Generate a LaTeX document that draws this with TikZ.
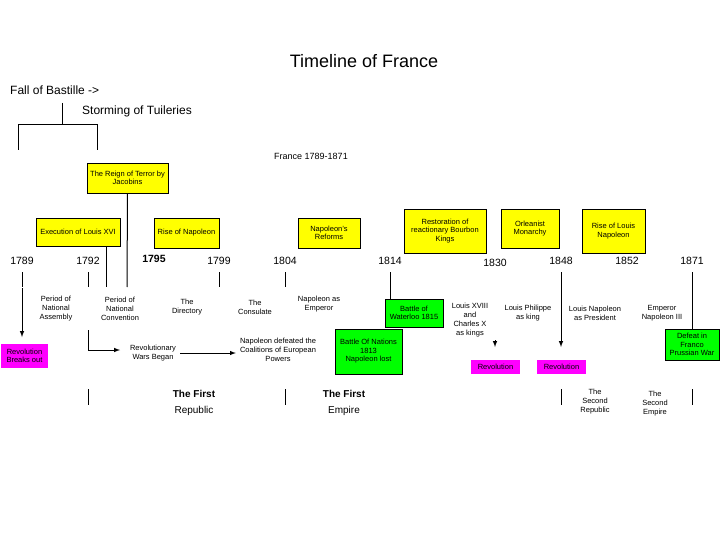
\documentclass[tikz,border=0pt]{standalone}
\usepackage{fontspec}
\setmainfont{Liberation Sans}
\definecolor{mag}{RGB}{255,0,255}
\definecolor{yel}{RGB}{255,255,0}
\definecolor{grn}{RGB}{0,255,0}
\begin{document}
\begin{tikzpicture}[x=1pt,y=-1pt,
 ybox/.style={fill=yel,draw=black,line width=0.6pt,inner sep=1pt,font=\fontsize{7.5}{8.5}\selectfont,align=center},
 gbox/.style={fill=grn,draw=black,line width=0.6pt,inner sep=1pt,font=\fontsize{7.5}{8.5}\selectfont,align=center},
 mbox/.style={fill=mag,inner sep=1pt,font=\fontsize{7.5}{8.5}\selectfont,align=center},
 lbl/.style={font=\fontsize{7.5}{9}\selectfont,align=center,inner sep=0pt},
 yr/.style={font=\fontsize{10.5}{12}\selectfont,inner sep=0pt},
 ln/.style={line width=1pt},
 arr/.style={line width=1pt,-latex}]
\useasboundingbox (0,0) rectangle (720,540);
\node[font=\fontsize{18}{20}\selectfont] (title) at (364,61) {Timeline of France};
\node[anchor=west,font=\fontsize{12}{14}\selectfont,inner sep=0pt] (fall) at (10,90) {Fall of Bastille ->};
\node[anchor=west,font=\fontsize{12}{14}\selectfont,inner sep=0pt] (storm) at (82,111) {Storming of Tuileries};
\coordinate (b0) at (62,103); \coordinate (b1) at (62,125);
\coordinate (bl) at (18,125); \coordinate (br) at (97,125);
\coordinate (bl2) at (18,150); \coordinate (br2) at (97,150);
\draw[ln] (b0)--(b1) (bl2)--(bl)--(br)--(br2);
\node[font=\fontsize{9}{10}\selectfont] (fr) at (311,156) {France 1789-1871};
% yellow boxes
\node[ybox,minimum width=81,minimum height=30] (terror) at (127.5,178) {The Reign of Terror by\\Jacobins};
\node[ybox,minimum width=84,minimum height=28] (exec) at (78,232) {Execution of Louis XVI};
\node[ybox,minimum width=65,minimum height=30] (risen) at (186.5,233) {Rise of Napoleon};
\node[ybox,minimum width=62,minimum height=30] (reform) at (329,233) {Napoleon's\\Reforms};
\node[ybox,minimum width=82,minimum height=44] (resto) at (445,231) {Restoration of\\reactionary Bourbon\\Kings};
\node[ybox,minimum width=58,minimum height=39] (orl) at (530,228.5) {Orleanist\\Monarchy};
\node[ybox,minimum width=63,minimum height=44] (riseln) at (613.5,231) {Rise of Louis\\Napoleon};
% years
\foreach \n/\x/\y/\t in {y89/22/261/1789,y92/88/261/1792,y99/219/261/1799,y04/285/261/1804,y14/390/261/1814,y30/495/263/1830,y48/561/261/1848,y52/627/261/1852,y71/692/261/1871}
 \node[yr] (\n) at (\x,\y) {\t};
\node[yr,font=\fontsize{10.5}{12}\selectfont\bfseries] (y95) at (154,259) {1795};
\foreach \x/\n in {22/a,88/b,219/c,285/d,390/e,561/f,692/g}{
 \coordinate (t\n1) at (\x,272); \coordinate (t\n2) at (\x,287);
 \draw[ln] (t\n1)--(t\n2);}
\coordinate (ex2) at (106,287); \draw[ln] (exec.south -| ex2) -- (ex2);
\coordinate (te2) at (127,287); \draw[ln] (terror.south) -- (te2);
% periods
\node[lbl] (pna) at (56,309) {Period of\\National\\Assembly};
\node[lbl] (pnc) at (120,309) {Period of\\National\\Convention};
\node[lbl] (dir) at (187,307) {The\\Directory};
\node[lbl] (cons) at (255,307) {The\\Consulate};
\node[lbl] (emp) at (319,304) {Napoleon as\\Emperor};
% lower row
\coordinate (ra) at (22,288);
\node[mbox,minimum width=47,minimum height=24] (rev1) at (24.5,356) {Revolution\\Breaks out};
\draw[arr] (ra) -- (22,337);
\node[lbl] (wars) at (153,353) {Revolutionary\\Wars Began};
\coordinate (wa) at (88,330); \coordinate (wb) at (88,350);
\draw[arr] (wa)--(wb)--(120,350);
\node[lbl] (coal) at (278,350) {Napoleon defeated the\\Coalitions of European\\Powers};
\draw[arr] (wars.east)++(4,0) -- ([xshift=-4pt]coal.west |- wars.east);
\node[gbox,minimum width=67,minimum height=45] (nations) at (368.5,351.5) {Battle Of Nations\\1813\\Napoleon lost};
\node[gbox,minimum width=58,minimum height=28] (water) at (414,313) {Battle of\\Waterloo 1815};
\coordinate (wt) at (390,287); \draw[ln] (wt) -- (water.north -| wt);
\node[lbl] (lx) at (470,320) {Louis XVIII\\and\\Charles X\\as kings};
\node[mbox,minimum width=49,minimum height=14] (rev2) at (495.5,367) {Revolution};
\coordinate (lxa) at (495,340); \draw[arr] (lxa) -- (495,347);
\node[lbl] (lp) at (528,313) {Louis Philippe\\as king};
\node[mbox,minimum width=49,minimum height=14] (rev3) at (561.5,367) {Revolution};
\coordinate (lpa) at (561,287); \draw[arr] (lpa) -- (561,347);
\node[lbl] (ln) at (595,313) {Louis Napoleon\\as President};
\node[lbl] (n3) at (662,313) {Emperor\\Napoleon III};
\node[gbox,minimum width=54,minimum height=31] (fp) at (692,344.5) {Defeat in\\Franco\\Prussian War};
\coordinate (fpt) at (692,287); \draw[ln] (fpt) -- (fp.north);
% bottom
\foreach \x/\n in {88/a,285/b,561/c,692/d}{
 \coordinate (u\n1) at (\x,389); \coordinate (u\n2) at (\x,405);
 \draw[ln] (u\n1)--(u\n2);}
\node[font=\fontsize{10}{16}\selectfont,align=center] (r1) at (194,403) {\textbf{The First}\\Republic};
\node[font=\fontsize{10}{16}\selectfont,align=center] (e1) at (344,403) {\textbf{The First}\\Empire};
\node[lbl] (r2) at (595,402) {The\\Second\\Republic};
\node[lbl] (e2) at (655,404) {The\\Second\\Empire};
\end{tikzpicture}
\end{document}
